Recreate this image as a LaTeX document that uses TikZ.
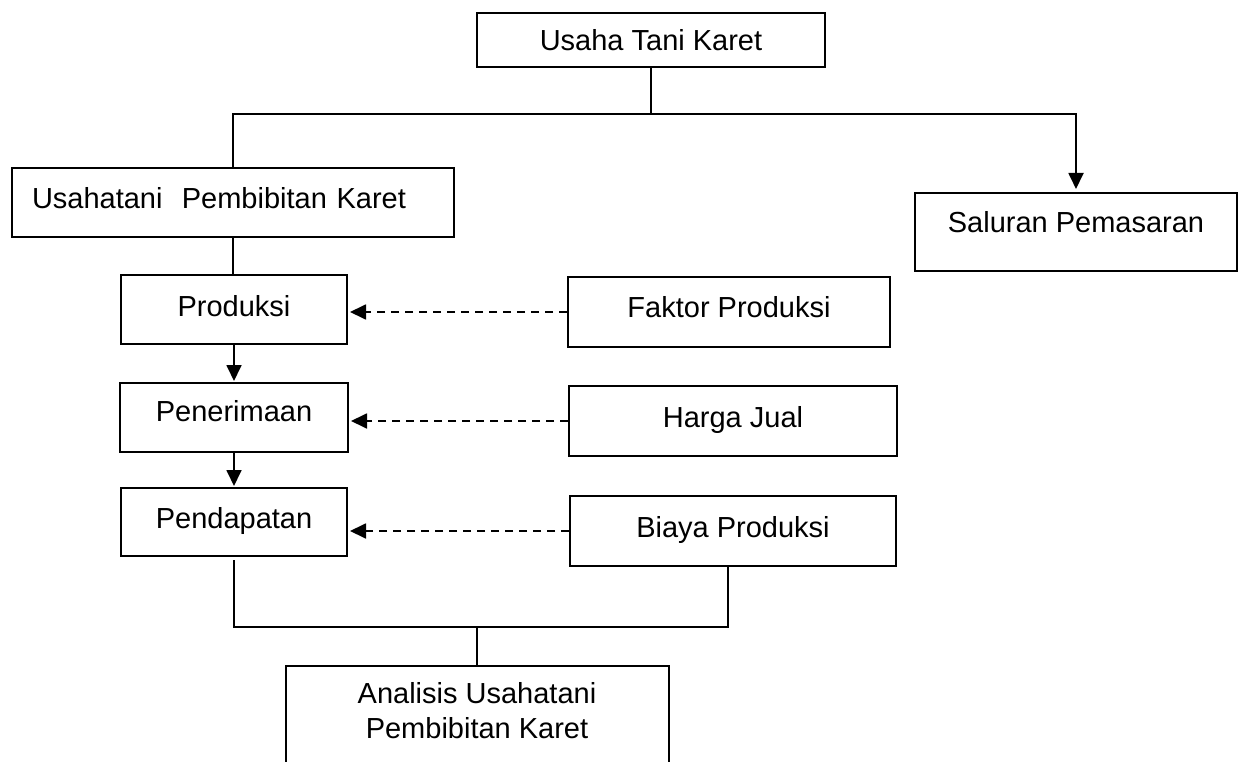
\documentclass[tikz,border=0pt]{standalone}
\usepackage{fontspec}
\setmainfont{Liberation Sans}
\usetikzlibrary{arrows.meta}
\newcommand\diafont{\fontsize{29}{34.7}\selectfont}
\begin{document}
\begin{tikzpicture}[x=1pt,y=-1pt,
  box/.style={draw, line width=2pt, inner sep=0pt, font=\diafont, text height=20.8pt, text depth=10pt},
  conn/.style={line width=1.8pt},
  arr/.style={conn, -{Triangle[length=16pt,width=15pt]}},
  darr/.style={arr, dash pattern=on 8pt off 6pt}]
\useasboundingbox (0,0) rectangle (1242,762);

\node[box, minimum width=348pt, minimum height=54pt, text depth=0pt] (top) at (651,40) {Usaha Tani Karet};
\node[box, minimum height=69pt, text width=402pt, inner xsep=20pt, align=left, text depth=9.8pt] (usa) at (233,202.5) {Usahatani\ \ Pembibitan Karet};
\node[box, minimum width=322pt, minimum height=78pt, text depth=18.8pt] (sal) at (1076,232) {Saluran Pemasaran};
\node[box, minimum width=226pt, minimum height=69pt, text depth=6.8pt] (prod) at (234,309.5) {Produksi};
\node[box, minimum width=228pt, minimum height=69pt, text depth=12.8pt] (pen) at (234,417.5) {Penerimaan};
\node[box, minimum width=226pt, minimum height=68pt, text depth=8.8pt] (pend) at (234,522) {Pendapatan};
\node[box, minimum width=322pt, minimum height=70pt, text depth=9.8pt] (fak) at (729,312) {Faktor Produksi};
\node[box, minimum width=328pt, minimum height=70pt, text depth=7.8pt] (har) at (733,421) {Harga Jual};
\node[box, minimum width=326pt, minimum height=70pt, text depth=8.8pt] (bia) at (733,531) {Biaya Produksi};
\node[box, minimum width=383pt, minimum height=125pt, anchor=north, align=center, text height=55.5pt, text depth=35.5pt] (ana) at (477,665) {Analisis Usahatani\\Pembibitan Karet};

\coordinate (j1) at (651,114);
\draw[conn] (top.south) -- (j1);
\draw[conn] (usa.north) |- (j1);
\draw[arr, shorten >=3pt] (j1) -| (sal.north);
\draw[conn] (usa.south) -- (usa.south |- prod.north);
\draw[arr, shorten >=1pt] (prod.south) -- (pen.north);
\draw[arr, shorten >=1pt] (pen.south) -- (pend.north);
\draw[darr, shorten >=2pt] (fak.west) -- (fak.west -| prod.east);
\draw[darr, shorten >=2pt] (har.west) -- (har.west -| pen.east);
\draw[darr, shorten >=2pt] (bia.west) -- (bia.west -| pend.east);
\coordinate (j2) at (477,627);
\draw[conn] ([yshift=-3pt]pend.south) |- (j2) -| ([xshift=-5pt]bia.south);
\draw[conn] (j2) -- (ana.north);
\end{tikzpicture}
\end{document}
